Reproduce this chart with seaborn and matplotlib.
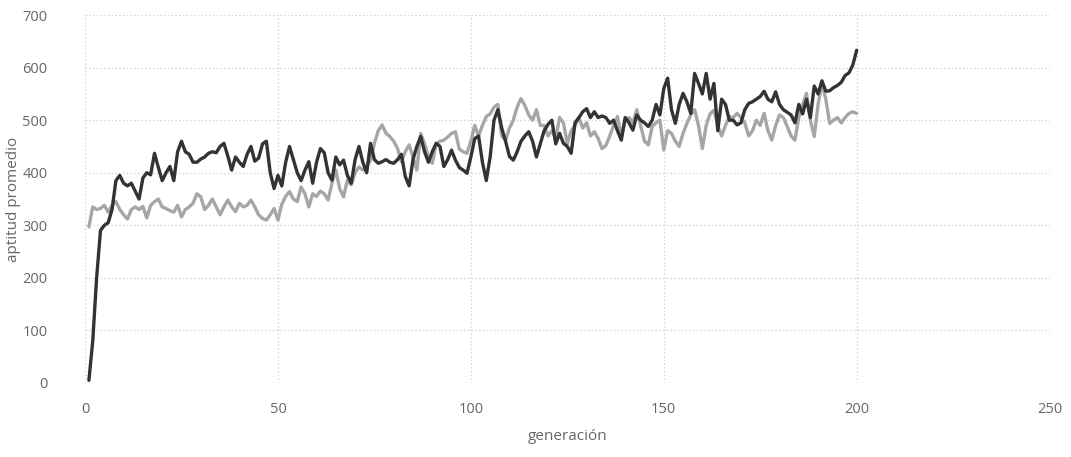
import numpy as np
import pandas as pd
import matplotlib
matplotlib.use("Agg")
import matplotlib.pyplot as plt
import seaborn as sns

# aptitud promedio por generación
generaciones = list(range(1, 201))

serie_oscura = [
    5, 80, 200, 290, 300, 305, 330, 385, 395, 380,
    375, 380, 365, 350, 390, 400, 396, 437, 410, 385,
    400, 412, 385, 440, 460, 440, 435, 420, 420, 426,
    430, 437, 440, 438, 450, 456, 432, 405, 430, 420,
    412, 435, 450, 422, 428, 455, 460, 400, 370, 395,
    375, 420, 450, 425, 400, 385, 405, 421, 380, 420,
    446, 438, 400, 386, 430, 415, 424, 395, 380, 425,
    450, 420, 400, 456, 425, 418, 421, 425, 420, 418,
    425, 435, 393, 375, 425, 450, 469, 440, 420, 440,
    456, 450, 412, 425, 443, 424, 410, 405, 399, 430,
    465, 470, 420, 385, 430, 500, 520, 485, 460, 431,
    424, 440, 460, 470, 478, 460, 430, 455, 480, 492,
    500, 455, 475, 456, 450, 437, 495, 505, 516, 522,
    505, 516, 505, 508, 505, 494, 500, 480, 462, 505,
    495, 481, 510, 500, 495, 488, 500, 530, 510, 560,
    580, 520, 494, 530, 551, 535, 513, 589, 570, 550,
    589, 540, 570, 480, 540, 530, 500, 500, 491, 495,
    520, 532, 535, 540, 545, 555, 540, 535, 554, 530,
    520, 515, 510, 495, 530, 512, 540, 505, 565, 550,
    575, 555, 556, 562, 566, 572, 585, 590, 605, 633,
]

serie_clara = [
    297, 335, 330, 332, 338, 325, 338, 345, 330, 320,
    312, 330, 335, 330, 336, 314, 338, 345, 350, 335,
    332, 328, 325, 338, 316, 330, 335, 342, 360, 354,
    330, 338, 350, 335, 320, 335, 348, 335, 326, 342,
    335, 338, 348, 335, 320, 313, 310, 320, 332, 310,
    340, 355, 364, 350, 345, 373, 360, 335, 360, 355,
    365, 360, 348, 380, 405, 370, 354, 386, 377, 400,
    411, 405, 412, 424, 456, 480, 491, 475, 469, 460,
    446, 421, 440, 453, 430, 405, 475, 455, 430, 418,
    455, 460, 462, 468, 475, 478, 445, 440, 437, 460,
    490, 470, 490, 507, 512, 525, 530, 470, 462, 485,
    500, 525, 541, 528, 510, 500, 520, 490, 490, 470,
    480, 465, 505, 495, 455, 480, 490, 505, 485, 495,
    470, 478, 465, 446, 452, 470, 490, 507, 470, 500,
    505, 495, 520, 490, 460, 453, 488, 495, 500, 443,
    480, 475, 460, 450, 475, 494, 510, 520, 490, 446,
    490, 512, 519, 490, 470, 490, 507, 505, 513, 505,
    495, 470, 480, 500, 490, 513, 480, 462, 490, 510,
    505, 488, 470, 462, 505, 530, 551, 500, 469, 530,
    570, 540, 494, 500, 505, 495, 505, 513, 516, 513,
]

x_ticks = [0, 50, 100, 150, 200, 250]
y_ticks = [0, 100, 200, 300, 400, 500, 600, 700]

df = pd.DataFrame({
    "generación": generaciones * 2,
    "aptitud promedio": serie_oscura + serie_clara,
    "serie": ["oscura"] * len(serie_oscura) + ["clara"] * len(serie_clara),
})

sns.set_theme(style="white")
plt.rcParams["font.family"] = ["Open Sans", "DejaVu Sans"]

fig = plt.figure(figsize=(10.71, 4.57), dpi=100)
ax = fig.add_axes([0.0794, 0.162, 0.9006, 0.805])

# gris claro primero, gris oscuro encima
sns.lineplot(data=df, x="generación", y="aptitud promedio", hue="serie",
             hue_order=["clara", "oscura"],
             palette={"oscura": "#333333", "clara": "#a6a6a6"},
             linewidth=2.4, legend=False, ax=ax)

ax.set_xlim(0, 250)
ax.set_ylim(0, 700)
ax.set_xticks(x_ticks)
ax.set_yticks(y_ticks)
ax.grid(True, color="#cccccc", linestyle=(0, (1, 2)), linewidth=0.9)
for s in ax.spines.values():
    s.set_visible(False)

ax.tick_params(axis="y", length=0, pad=27, labelsize=10.5, labelcolor="#666666")
ax.tick_params(axis="x", length=0, pad=14, labelsize=10.5, labelcolor="#666666")
ax.set_xlabel("generación", fontsize=11, color="#666666", labelpad=8)
ax.set_ylabel("aptitud promedio", fontsize=11, color="#666666", labelpad=1)

fig.savefig("out.png", dpi=100)
